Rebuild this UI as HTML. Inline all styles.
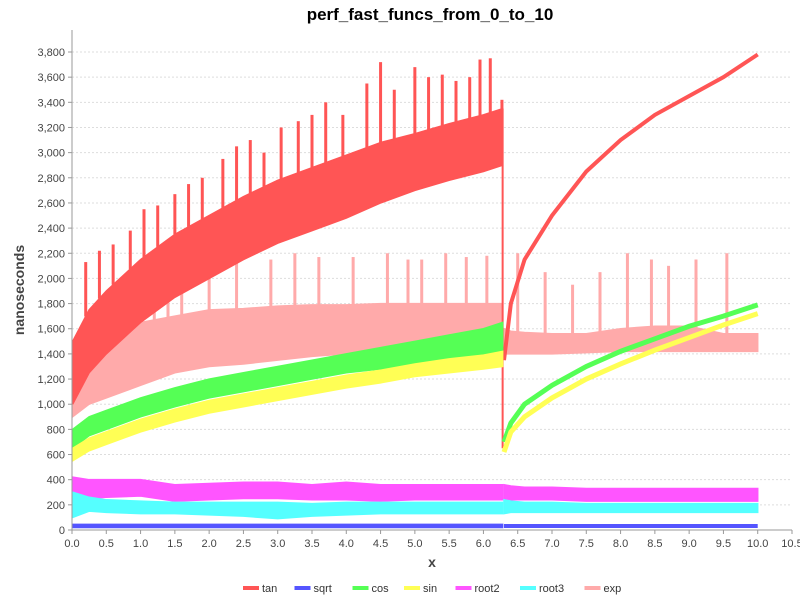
<!DOCTYPE html>
<html><head><meta charset="utf-8"><style>
body{margin:0;background:#fff;font-family:"Liberation Sans",sans-serif}
</style></head><body>
<svg id="c" width="800" height="600" xmlns="http://www.w3.org/2000/svg">
<text x="430" y="20" text-anchor="middle" font-size="17" font-weight="bold">perf_fast_funcs_from_0_to_10</text>
<text transform="translate(24,290) rotate(-90)" text-anchor="middle" font-size="14" font-weight="bold" fill="#444">nanoseconds</text>
<text x="432" y="567" text-anchor="middle" font-size="14" font-weight="bold" fill="#444">x</text>
<g id="grid"></g><g id="marks"></g><g id="axes"></g><g id="legend"></g>
</svg>
<script>
const yTicks=[0,200,400,600,800,1000,1200,1400,1600,1800,2000,2200,2400,2600,2800,3000,3200,3400,3600,3800];
const xTicks=[0,0.5,1,1.5,2,2.5,3,3.5,4,4.5,5,5.5,6,6.5,7,7.5,8,8.5,9,9.5,10,10.5];
const seriesNames=["tan","sqrt","cos","sin","root2","root3","exp"];
const seriesColors=["#ff5555","#5555ff","#55ff55","#ffff55","#ff55ff","#55ffff","#ffaaaa"];
// segment 1: x 0..6.28
const xA=[0.01,0.25,0.5,1,1.5,2,2.5,3,3.5,4,4.5,5,5.5,6,6.28];
const tanHiA=[1500,1750,1900,2150,2350,2500,2650,2780,2880,2980,3080,3150,3230,3300,3350];
const tanLoA=[1000,1250,1400,1650,1850,2000,2150,2280,2380,2480,2600,2700,2780,2850,2900];
const expHiA=[1300,1500,1600,1650,1700,1750,1760,1780,1790,1790,1800,1800,1800,1800,1800];
const expLoA=[900,1000,1050,1150,1250,1300,1320,1350,1380,1400,1410,1420,1430,1440,1450];
const cosHiA=[800,900,950,1050,1130,1200,1250,1300,1350,1400,1450,1500,1550,1600,1650];
const cosLoA=[650,750,800,900,980,1050,1100,1150,1200,1250,1280,1300,1350,1380,1400];
const sinHiA=[650,730,780,880,960,1030,1080,1130,1180,1230,1270,1320,1360,1390,1420];
const sinLoA=[550,630,680,780,860,930,980,1030,1080,1130,1170,1220,1250,1280,1300];
const r2HiA=[420,400,400,400,360,370,380,380,360,380,360,360,360,360,360];
const r2LoA=[230,250,260,270,230,240,250,250,240,240,230,240,240,240,240];
const r3HiA=[300,260,240,230,220,220,220,220,210,220,220,220,220,220,220];
const r3LoA=[100,150,140,130,130,120,110,90,110,120,130,130,130,130,130];
const sqHiA=[45,45,45,45,45,45,45,45,45,45,45,45,45,45,45];
const sqLoA=[20,20,20,20,20,20,20,20,20,20,20,20,20,20,20];
// segment 2: x 6.3..10
const xB=[6.3,6.4,6.6,7,7.5,8,8.5,9,9.5,10];
const tanB=[1350,1800,2150,2500,2850,3100,3300,3450,3600,3780];
const cosB=[700,850,1000,1150,1300,1420,1520,1620,1700,1790];
const sinB=[620,780,900,1050,1200,1320,1430,1530,1630,1720];
const expHiB=[1600,1580,1570,1560,1560,1600,1620,1620,1560,1560];
const expLoB=[1400,1400,1400,1400,1410,1420,1420,1420,1420,1420];
const r2HiB=[360,350,340,340,330,330,330,330,330,330];
const r2LoB=[250,240,240,240,230,230,230,230,230,230];
const r3HiB=[240,230,220,220,210,210,210,210,210,210];
const r3LoB=[130,140,140,140,140,140,140,140,140,140];
// spikes
const tanSpikeX=[0.2,0.4,0.6,0.85,1.05,1.25,1.5,1.7,1.9,2.2,2.4,2.6,2.8,3.05,3.3,3.5,3.7,3.95,4.3,4.5,4.7,5.0,5.2,5.4,5.6,5.8,5.95,6.1,6.27];
const tanSpikeV=[2130,2220,2270,2380,2550,2580,2670,2750,2800,2950,3050,3100,3000,3200,3250,3300,3400,3300,3550,3720,3500,3680,3600,3620,3570,3600,3740,3750,3420];
const expSpikeX=[1.2,1.4,1.6,2.0,2.4,2.9,3.25,3.6,4.1,4.6,4.9,5.1,5.45,5.75,6.05,6.5,6.9,7.3,7.7,8.1,8.45,8.7,9.1,9.55];
const expSpikeV=[1950,1950,2050,2100,2150,2150,2200,2170,2170,2200,2150,2150,2200,2170,2180,2200,2050,1950,2050,2200,2150,2100,2150,2200];
const NS="http://www.w3.org/2000/svg";
const X0=72,X1=792,Y0=530,Y1=52;
const xs=v=>X0+v/10.5*(X1-X0);
const ys=v=>Y0-v/3800*(Y0-Y1);
function interp(xa,va,x){if(x<=xa[0])return va[0];for(let i=1;i<xa.length;i++){if(x<=xa[i]){const t=(x-xa[i-1])/(xa[i]-xa[i-1]);return va[i-1]+t*(va[i]-va[i-1]);}}return va[va.length-1];}
function mk(tag,attrs,parent){const e=document.createElementNS(NS,tag);for(const k in attrs)e.setAttribute(k,attrs[k]);parent.appendChild(e);return e;}
const grid=document.getElementById('grid'),marks=document.getElementById('marks'),axes=document.getElementById('axes'),leg=document.getElementById('legend');
yTicks.forEach(t=>{const y=ys(t);
 const g=mk('line',{x1:X0,x2:X1,y1:y,y2:y,stroke:'#ddd','stroke-dasharray':'2,2'},grid);
 
 
 mk('line',{x1:X0-4,x2:X0,y1:y,y2:y,stroke:'#999'},axes);
 const tx=mk('text',{x:X0-7,y:y+4,'text-anchor':'end','font-size':11,fill:'#444'},axes);tx.textContent=t.toLocaleString('en-US');
 
 });
xTicks.forEach(t=>{const x=xs(t);
 mk('line',{x1:x,x2:x,y1:Y0,y2:Y0+4,stroke:'#999'},axes);
 const tx=mk('text',{x:x,y:Y0+17,'text-anchor':'middle','font-size':11,fill:'#444'},axes);tx.textContent=t.toFixed(1);
 
 });
const ax=mk('line',{x1:X0,x2:X1,y1:Y0,y2:Y0,stroke:'#999'},axes);


const ay=mk('line',{x1:X0,x2:X0,y1:30,y2:Y0,stroke:'#999'},axes);


function band(xa,hi,lo,col,name){
 let d='M'+xa.map((x,i)=>xs(x)+','+ys(hi[i])).join('L');
 for(let i=xa.length-1;i>=0;i--)d+='L'+xs(xa[i])+','+ys(lo[i]);
 const p=mk('path',{d:d+'Z',fill:col,stroke:col,'stroke-width':1.5},marks);
 
 }
function line(xa,v,col,w,name){
 const p=mk('polyline',{points:xa.map((x,i)=>xs(x)+','+ys(v[i])).join(' '),fill:'none',stroke:col,'stroke-width':w},marks);
 
 }
function spikes(sx,sv,col,name,baseFn){sx.forEach((x,i)=>{
 const l=mk('line',{x1:xs(x),x2:xs(x),y1:ys(sv[i]),y2:ys(baseFn(x)),stroke:col,'stroke-width':3},marks);
 
 });}
spikes(expSpikeX,expSpikeV,seriesColors[6],'exp-spike',x=>x<6.29?interp(xA,expHiA,x):interp(xB,expHiB,x));
band(xA,expHiA,expLoA,seriesColors[6],'exp-band');
band(xB,expHiB,expLoB,seriesColors[6],'exp-band-2');
spikes(tanSpikeX,tanSpikeV,seriesColors[0],'tan-spike',x=>interp(xA,tanHiA,x));
band(xA,tanHiA,tanLoA,seriesColors[0],'tan-band');
const drop=mk('line',{x1:xs(6.28),x2:xs(6.28),y1:ys(3350),y2:ys(650),stroke:seriesColors[0],'stroke-width':2},marks);


line(xB,tanB,seriesColors[0],4,'tan-line');
band(xA,cosHiA,cosLoA,seriesColors[2],'cos-band');
band(xA,sinHiA,sinLoA,seriesColors[3],'sin-band');
line(xB,cosB,seriesColors[2],5,'cos-line');
line(xB,sinB,seriesColors[3],5,'sin-line');
band(xA,r2HiA,r2LoA,seriesColors[4],'root2-band');
band(xB,r2HiB,r2LoB,seriesColors[4],'root2-band-2');
band(xA,r3HiA,r3LoA,seriesColors[5],'root3-band');
band(xB,r3HiB,r3LoB,seriesColors[5],'root3-band-2');
band(xA,sqHiA,sqLoA,seriesColors[1],'sqrt-band');
line([6.3,10],[32,32],seriesColors[1],4,'sqrt-line');
let lx=243;
seriesNames.forEach((n,i)=>{
 const g=mk('g',{},leg);
 
 
 mk('rect',{x:lx,y:586,width:16,height:4,fill:seriesColors[i]},g);
 const t=mk('text',{x:lx+19,y:592,'font-size':11,fill:'#333'},g);t.textContent=n;
 lx+=19+n.length*6.5+13;});
</script>
</body></html>
